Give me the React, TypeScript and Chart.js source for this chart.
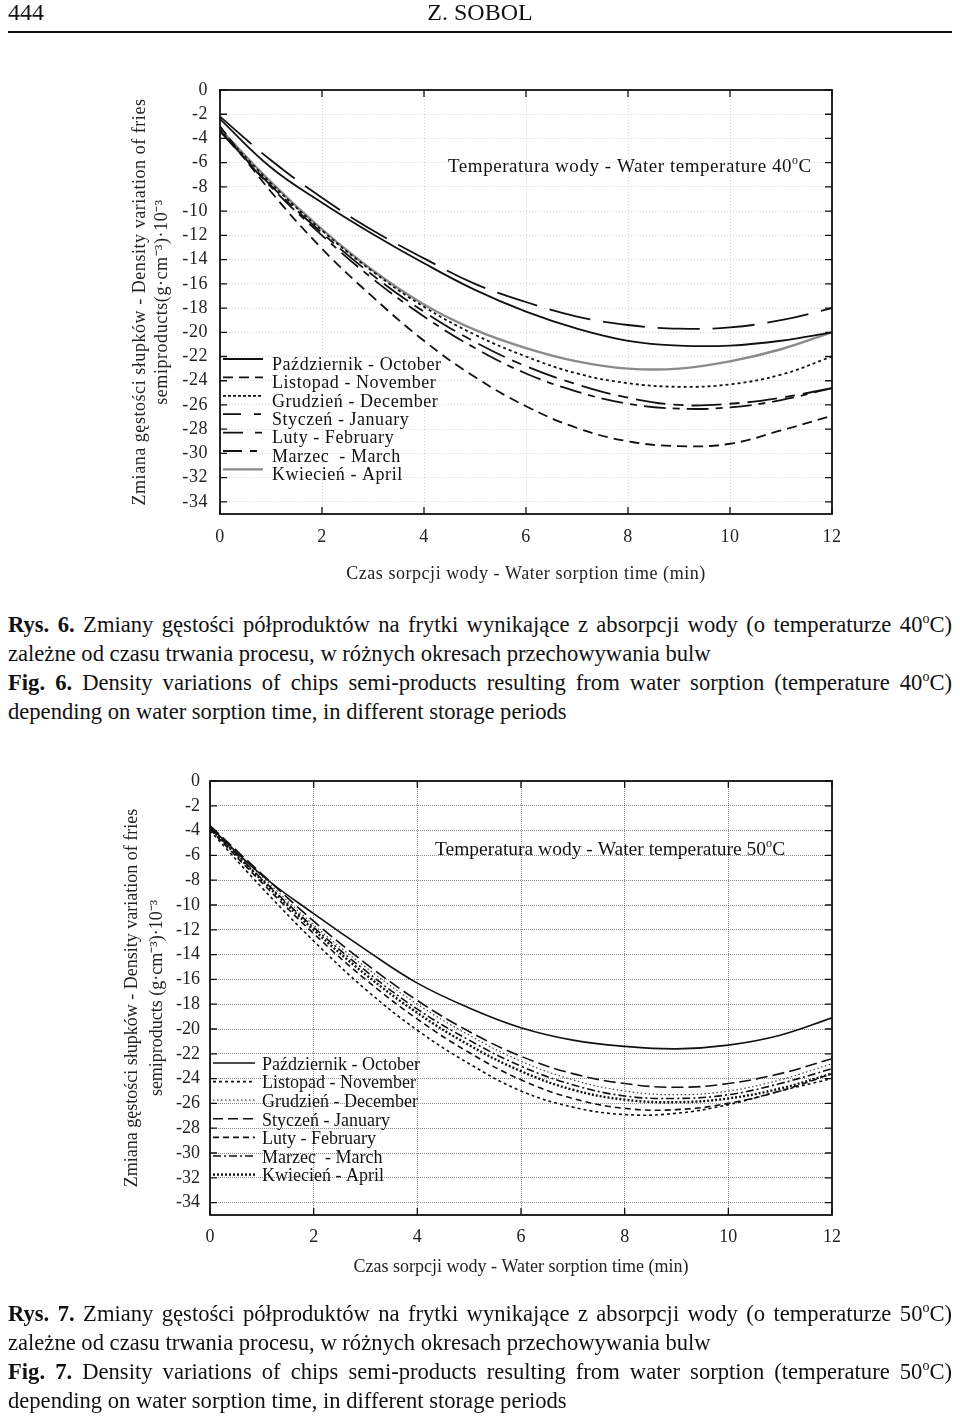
import React, { useEffect, useRef } from "react";
import { Chart, registerables } from "chart.js";
Chart.register(...registerables);

const FONT = "'Liberation Serif', 'Times New Roman', Times, serif";

// ---------- data ----------
const times = [0, 1, 2, 3, 4, 5, 6, 7, 8, 9, 10, 11, 12];
const xTicks = [0, 2, 4, 6, 8, 10, 12];
const yTicks = [0, -2, -4, -6, -8, -10, -12, -14, -16, -18, -20, -22, -24, -26, -28, -30, -32, -34];
const monthLabels = [
  "Październik - October",
  "Listopad - November",
  "Grudzień - December",
  "Styczeń - January",
  "Luty - February",
  "Marzec  - March",
  "Kwiecień - April",
];

// 40 °C
const oct40 = [-2.4, -6.4, -9.3, -11.9, -14.3, -16.5, -18.3, -19.7, -20.7, -21.1, -21.1, -20.7, -20.0];
const nov40 = [-3.0, -8.4, -13.1, -17.1, -20.7, -23.7, -26.1, -27.9, -29.0, -29.4, -29.2, -28.1, -26.9];
const dec40 = [-3.3, -7.7, -11.6, -15.0, -17.9, -20.2, -22.0, -23.4, -24.2, -24.5, -24.3, -23.5, -22.0];
const jan40 = [-2.2, -5.8, -8.9, -11.6, -13.9, -16.0, -17.5, -18.7, -19.4, -19.7, -19.6, -19.0, -18.0];
const feb40 = [-3.4, -7.9, -11.8, -15.3, -18.3, -20.8, -22.8, -24.3, -25.4, -26.0, -25.9, -25.4, -24.6];
const mar40 = [-3.4, -8.0, -12.0, -15.6, -18.7, -21.3, -23.4, -24.9, -25.9, -26.3, -26.2, -25.6, -24.6];
const apr40 = [-3.2, -7.6, -11.5, -14.9, -17.7, -19.8, -21.3, -22.4, -23.0, -23.0, -22.4, -21.4, -20.0];

// 50 °C
const oct50 = [-3.7, -7.6, -10.7, -13.6, -16.3, -18.3, -19.9, -20.9, -21.4, -21.6, -21.3, -20.5, -19.1];
const nov50 = [-4.0, -8.6, -12.9, -16.8, -20.1, -22.8, -25.0, -26.3, -26.9, -26.8, -26.1, -25.0, -24.0];
const dec50 = [-3.7, -7.7, -11.6, -15.0, -18.0, -20.5, -22.6, -24.1, -25.0, -25.3, -25.0, -24.1, -22.8];
const jan50 = [-3.6, -7.5, -11.3, -14.7, -17.7, -20.2, -22.2, -23.6, -24.4, -24.7, -24.4, -23.6, -22.4];
const feb50 = [-3.9, -8.2, -12.3, -16.0, -19.2, -21.9, -24.1, -25.6, -26.4, -26.5, -26.0, -25.0, -23.6];
const mar50 = [-3.8, -7.9, -11.8, -15.3, -18.4, -20.9, -23.0, -24.5, -25.4, -25.6, -25.3, -24.4, -23.2];
const apr50 = [-3.8, -8.0, -12.0, -15.6, -18.7, -21.3, -23.4, -24.9, -25.7, -25.9, -25.6, -24.8, -23.6];

// ---------- styles ----------
const styles40 = [
  { color: "#111", width: 1.8, dash: [], legendDash: [] },
  { color: "#111", width: 1.8, dash: [10, 6], legendDash: [10, 6] },
  { color: "#111", width: 1.8, dash: [3, 3], legendDash: [3, 2] },
  { color: "#111", width: 1.8, dash: [42, 13], legendDash: [18, 13, 7, 100] },
  { color: "#111", width: 1.8, dash: [30, 8, 10, 8], legendDash: [20, 12, 7, 100] },
  { color: "#111", width: 1.8, dash: [22, 7, 7, 7], legendDash: [19, 8, 7, 100] },
  { color: "#8a8a8a", width: 2.4, dash: [], legendDash: [] },
];
const styles50 = [
  { color: "#111", width: 1.6, dash: [], legendDash: [] },
  { color: "#111", width: 1.6, dash: [3, 3], legendDash: [3, 3] },
  { color: "#444", width: 1.2, dash: [1.5, 2.5], legendDash: [1.5, 2.5] },
  { color: "#111", width: 1.6, dash: [12, 5], legendDash: [10, 5] },
  { color: "#111", width: 1.6, dash: [6, 4], legendDash: [6, 4] },
  { color: "#111", width: 1.6, dash: [8, 3, 2, 3], legendDash: [8, 3, 2, 3] },
  { color: "#111", width: 2.4, dash: [2, 2], legendDash: [2, 2] },
];

const decorPlugin = {
  id: "decor",
  beforeDraw(chart: any, _a: any, o: any) {
    (chart.ctx as any).letterSpacing = o.spacing || "0px";
  },
  afterDatasetsDraw(chart: any, _a: any, o: any) {
    const { ctx, chartArea: a, scales } = chart;
    const xs = scales.x;
    const ys = scales.y;
    ctx.save();
    ctx.letterSpacing = o.spacing || "0px";
    ctx.setLineDash([]);
    ctx.strokeStyle = "#111";
    ctx.lineWidth = o.frameWidth;
    ctx.strokeRect(a.left, a.top, a.right - a.left, a.bottom - a.top);
    ctx.lineWidth = 1.3;
    const tl = o.tickLen;
    ctx.beginPath();
    for (const v of yTicks) {
      const y = ys.getPixelForValue(v);
      ctx.moveTo(a.left, y);
      ctx.lineTo(a.left + tl, y);
      ctx.moveTo(a.right, y);
      ctx.lineTo(a.right - tl, y);
    }
    for (const v of xTicks) {
      const x = xs.getPixelForValue(v);
      ctx.moveTo(x, a.top);
      ctx.lineTo(x, a.top + tl);
      ctx.moveTo(x, a.bottom);
      ctx.lineTo(x, a.bottom - tl);
    }
    ctx.stroke();

    // legend
    const L = o.legend;
    chart.data.datasets.forEach((ds: any, i: number) => {
      const yText = a.top + L.y + i * L.dy;
      const yLine = yText + L.lineOffset;
      ctx.save();
      ctx.strokeStyle = ds.borderColor;
      ctx.lineWidth = ds.borderWidth;
      ctx.setLineDash(L.dashes[i] || []);
      ctx.beginPath();
      ctx.moveTo(a.left + L.x, yLine);
      ctx.lineTo(a.left + L.x + L.len, yLine);
      ctx.stroke();
      ctx.restore();
      ctx.fillStyle = "#111";
      ctx.font = `${L.size}px ${FONT}`;
      ctx.textBaseline = "middle";
      ctx.textAlign = "left";
      ctx.fillText(ds.label, a.left + L.x + L.len + L.gap, yText);
    });

    // title
    const T = o.title;
    ctx.fillStyle = "#111";
    ctx.textBaseline = "alphabetic";
    ctx.textAlign = "left";
    ctx.font = `${T.size}px ${FONT}`;
    let x = a.left + T.x;
    const y = a.top + T.y;
    ctx.fillText(T.main, x, y);
    x += ctx.measureText(T.main).width;
    ctx.font = `${T.size * 0.62}px ${FONT}`;
    ctx.fillText("o", x, y - T.size * 0.42);
    x += ctx.measureText("o").width;
    ctx.font = `${T.size}px ${FONT}`;
    ctx.fillText("C", x, y);
    ctx.restore();
  },
};

function buildDatasets(series: number[][], styles: any[]) {
  return series.map((s, i) => ({
    label: monthLabels[i],
    data: times.map((t, j) => ({ x: t, y: s[j] })),
    borderColor: styles[i].color,
    borderWidth: styles[i].width,
    borderDash: styles[i].dash,
    borderCapStyle: "butt",
    pointRadius: 0,
    tension: 0.4,
    fill: false,
  }));
}

function makeConfig(p: any) {
  return {
    type: "line",
    data: { datasets: buildDatasets(p.series, p.styles) },
    options: {
      responsive: false,
      animation: false,
      events: [],
      layout: { padding: p.padding },
      plugins: {
        legend: { display: false },
        tooltip: { enabled: false },
        decor: { ...p.decor, legend: { ...p.decor.legend, dashes: p.styles.map((s: any) => s.legendDash) } },
      },
      scales: {
        x: {
          type: "linear",
          min: 0,
          max: 12,
          afterBuildTicks: (s: any) => {
            s.ticks = xTicks.map((v) => ({ value: v }));
          },
          afterFit: (s: any) => {
            s.height = p.xH;
          },
          grid: { color: p.gridColor, lineWidth: 1, drawTicks: false },
          border: { display: false, dash: p.gridDash },
          ticks: {
            padding: p.xPad,
            color: "#222",
            maxRotation: 0,
            autoSkip: false,
            font: { family: FONT, size: p.tickSize },
            callback: (v: any) => String(v),
          },
          title: {
            display: true,
            text: p.xTitle,
            color: "#222",
            padding: 0,
            font: { family: FONT, size: p.xTitleSize, lineHeight: 1.1 },
          },
        },
        y: {
          type: "linear",
          min: -35,
          max: 0,
          afterBuildTicks: (s: any) => {
            s.ticks = yTicks.map((v) => ({ value: v }));
          },
          afterFit: (s: any) => {
            s.width = p.yW;
          },
          grid: { color: p.gridColor, lineWidth: 1, drawTicks: false },
          border: { display: false, dash: p.gridDash },
          ticks: {
            padding: p.yPad,
            color: "#222",
            autoSkip: false,
            font: { family: FONT, size: p.tickSize },
            callback: (v: any) => String(v),
          },
          title: {
            display: true,
            text: p.yTitle,
            color: "#222",
            padding: 0,
            font: { family: FONT, size: p.yTitleSize, lineHeight: p.yTitleLH },
          },
        },
      },
    },
    plugins: [decorPlugin],
  };
}

function ChartCanvas({ config, top, height }: any) {
  const ref = useRef<HTMLCanvasElement>(null);
  useEffect(() => {
    const chart = new Chart(ref.current as HTMLCanvasElement, config);
    return () => chart.destroy();
  }, []);
  return (
    <canvas
      ref={ref}
      width={960}
      height={height}
      style={{ position: "absolute", left: 0, top, width: 960, height }}
    />
  );
}

const config40 = makeConfig({
  series: [oct40, nov40, dec40, jan40, feb40, mar40, apr40],
  styles: styles40,
  padding: { left: 128.75, right: 128, top: 90, bottom: 16 },
  xH: 70,
  yW: 91.25,
  xPad: 12,
  yPad: 12,
  tickSize: 18,
  gridColor: "rgba(0,0,0,0.16)",
  gridDash: [1, 2],
  xTitle: "Czas sorpcji wody - Water sorption time (min)",
  xTitleSize: 18,
  yTitle: ["Zmiana gęstości słupków - Density variation of fries", "semiproducts(g·cm⁻³)·10⁻³"],
  yTitleSize: 18,
  yTitleLH: 1.25,
  decor: {
    spacing: "0.55px",
    frameWidth: 1.8,
    tickLen: 7,
    legend: { x: 3, y: 275, dy: 18.4, len: 40, gap: 9, lineOffset: -6, size: 18 },
    title: { x: 228, y: 82, size: 19, main: "Temperatura wody - Water temperature 40" },
  },
});

const config50 = makeConfig({
  series: [oct50, nov50, dec50, jan50, feb50, mar50, apr50],
  styles: styles50,
  padding: { left: 119.8, right: 128, top: 51, bottom: 23 },
  xH: 62,
  yW: 90.2,
  xPad: 11,
  yPad: 10,
  tickSize: 18,
  gridColor: "rgba(0,0,0,0.45)",
  gridDash: [1, 1],
  xTitle: "Czas sorpcji wody - Water sorption time (min)",
  xTitleSize: 18,
  yTitle: ["Zmiana gęstości słupków - Density variation of fries", "semiproducts (g·cm⁻³)·10⁻³"],
  yTitleSize: 18,
  yTitleLH: 1.39,
  decor: {
    spacing: "0px",
    frameWidth: 1.8,
    tickLen: 7,
    legend: { x: 3, y: 284, dy: 18.6, len: 42, gap: 7, lineOffset: -2, size: 18 },
    title: { x: 225, y: 74, size: 19.5, main: "Temperatura wody - Water temperature 50" },
  },
});

const supStyle: React.CSSProperties = { fontSize: "0.62em", verticalAlign: "super", lineHeight: 0 };

function CapLine({ children, justify }: any) {
  return (
    <div
      style={{
        height: 29,
        lineHeight: "29px",
        textAlign: justify ? "justify" : "left",
        textAlignLast: justify ? "justify" : "auto",
        overflow: "hidden",
      } as any}
    >
      {children}
    </div>
  );
}

function Caption({ top, n, t }: any) {
  return (
    <div style={{ position: "absolute", left: 8, width: 944, top, fontSize: 22.6, color: "#111" }}>
      <CapLine justify>
        <b>Rys. {n}.</b> Zmiany gęstości półproduktów na frytki wynikające z absorpcji wody (o temperaturze {t}
        <span style={supStyle}>o</span>C)
      </CapLine>
      <CapLine>zależne od czasu trwania procesu, w różnych okresach przechowywania bulw</CapLine>
      <CapLine justify>
        <b>Fig. {n}.</b> Density variations of chips semi-products resulting from water sorption (temperature {t}
        <span style={supStyle}>o</span>C)
      </CapLine>
      <CapLine>depending on water sorption time, in different storage periods</CapLine>
    </div>
  );
}

export default function App() {
  return (
    <div
      style={{
        position: "absolute",
        left: 0,
        top: 0,
        width: 960,
        height: 1417,
        background: "#fff",
        fontFamily: FONT,
        color: "#111",
        overflow: "hidden",
      }}
    >
      <ChartCanvas config={config40} top={0} height={600} />
      <ChartCanvas config={config50} top={730} height={570} />
      <div style={{ position: "absolute", left: 8, top: -1, fontSize: 24, lineHeight: "27px" }}>444</div>
      <div style={{ position: "absolute", left: 0, width: 960, textAlign: "center", top: -1, fontSize: 24, lineHeight: "27px" }}>
        Z. SOBOL
      </div>
      <div style={{ position: "absolute", left: 8, width: 944, top: 31, height: 1.5, background: "#111" }} />
      <Caption top={610} n={6} t={40} />
      <Caption top={1299} n={7} t={50} />
    </div>
  );
}
